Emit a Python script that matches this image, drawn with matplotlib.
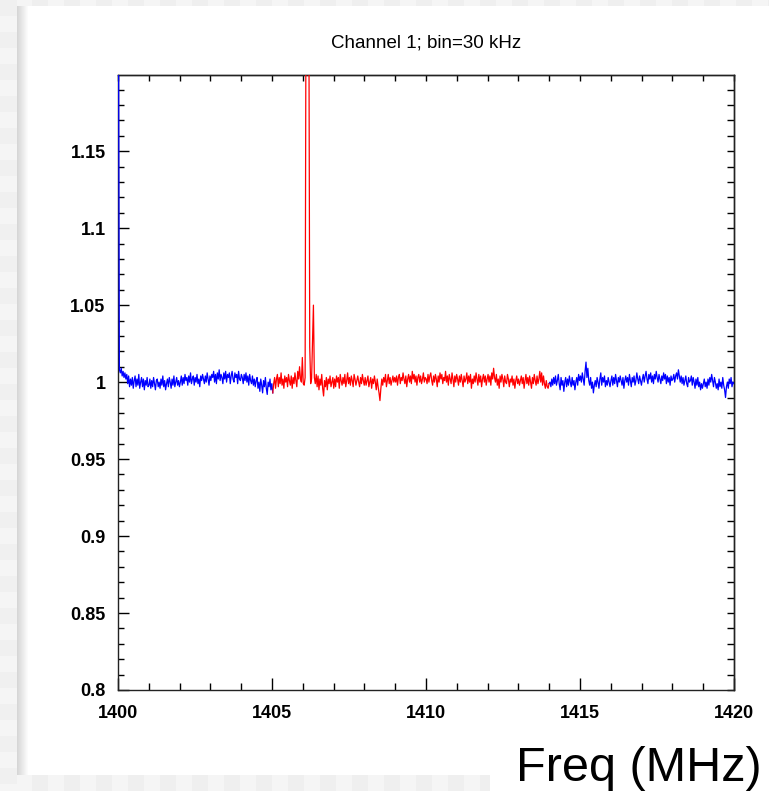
import numpy as np
import matplotlib
matplotlib.use("Agg")
import matplotlib.pyplot as plt
from matplotlib.patches import Rectangle
from matplotlib.ticker import MultipleLocator, FuncFormatter

# spectrum ratio, one value per 30 kHz bin starting at 1400 MHz
freq_start = 1400.0
bin_mhz = 0.03
ratio = [
    # 1400 - 1401
    1.25, 1.008, 1.006, 1.009, 1.004, 1.007, 1.003, 1.006, 1.002, 1.005,
    0.999, 1.004, 0.997, 1.002, 0.998, 1.003, 0.996, 1.001, 1.004, 0.997,
    1.002, 0.998, 1.005, 0.996, 1.000, 1.003, 0.997, 1.002, 0.995, 1.001,
    0.998, 1.003, 0.997,
    # 1401 - 1402
    0.998, 1.002, 0.996, 1.001, 0.997, 1.003, 0.999, 0.995, 1.001, 1.002,
    0.997, 1.000, 0.996, 1.002, 0.998, 1.004, 0.997, 1.001, 0.995, 0.999,
    1.002, 0.997, 1.003, 1.000, 0.996, 1.002, 0.998, 1.004, 0.997, 1.000,
    1.003, 0.998, 1.001, 0.997,
    # 1402 - 1403
    1.000, 1.004, 0.998, 1.003, 0.999, 1.005, 1.001, 1.003, 0.998, 1.004,
    1.000, 1.006, 0.999, 1.002, 1.004, 0.998, 1.003, 1.000, 1.005, 0.999,
    1.002, 0.997, 1.004, 1.001, 1.005, 1.002, 0.999, 1.004, 1.000, 1.006,
    1.002, 0.998, 1.004,
    # 1403 - 1404
    1.001, 1.005, 1.003, 1.007, 1.000, 1.005, 0.999, 1.006, 1.002, 1.008,
    1.001, 1.005, 1.003, 0.999, 1.006, 1.002, 1.007, 1.000, 1.005, 1.003,
    1.006, 0.999, 1.004, 1.007, 1.002, 1.000, 1.006, 1.003, 1.005, 0.999,
    1.007, 1.002, 1.001, 1.005,
    # 1404 - 1405
    1.003, 0.999, 1.005, 1.001, 1.006, 1.000, 1.004, 0.998, 1.005, 1.001,
    0.999, 1.004, 0.998, 1.002, 0.997, 1.001, 1.003, 0.996, 1.000, 0.994,
    1.002, 0.998, 0.993, 1.001, 0.997, 1.003, 0.996, 0.992, 1.000, 0.997,
    1.002, 0.995, 0.999,
    # 1405 - 1406.5 (line region)
    0.993, 0.999, 1.003, 0.996, 1.002, 1.005, 0.997, 1.003, 0.999, 1.006,
    0.998, 1.002, 0.996, 1.004, 1.000, 1.003, 0.997, 1.005, 1.001, 0.998,
    1.004, 0.996, 1.003, 0.999, 1.006, 1.001, 0.997, 1.007, 1.002, 1.010,
    1.002, 1.000, 1.016, 0.999, 0.998, 1.003, 1.26, 1.30, 1.30, 1.26,
    1.023, 0.999, 1.002, 1.027, 1.050, 1.003, 0.999, 1.005,
    # 1406.5 - 1407
    0.997, 1.004, 0.995, 1.002, 0.998, 1.005, 0.996, 0.991, 1.001, 0.997,
    1.003, 0.995, 1.002, 0.999, 1.004, 0.997, 1.000, 1.003, 0.996,
    # 1407 - 1408
    1.002, 0.997, 1.004, 1.000, 1.003, 0.996, 1.005, 1.001, 0.998, 1.003,
    0.999, 1.005, 0.997, 1.001, 1.006, 0.999, 1.003, 0.998, 1.004, 1.001,
    0.997, 1.005, 1.002, 0.998, 1.001, 1.004, 1.000, 0.997, 1.003, 0.999,
    1.005, 1.001, 0.998,
    # 1408 - 1409
    1.003, 0.998, 1.001, 1.004, 0.997, 1.000, 1.003, 0.996, 1.002, 0.999,
    1.004, 1.000, 0.995, 1.002, 0.997, 0.993, 0.988, 0.996, 1.002, 0.998,
    1.003, 1.000, 1.005, 0.997, 1.001, 1.005, 0.999, 1.003, 0.998, 1.001,
    1.004, 1.000, 1.003,
    # 1409 - 1410
    1.000, 1.004, 0.998, 1.003, 1.005, 0.999, 1.003, 1.001, 1.006, 1.002,
    0.999, 1.004, 0.997, 1.002, 1.005, 1.000, 1.004, 0.999, 1.007, 1.002,
    1.005, 1.000, 1.004, 0.998, 1.003, 1.005, 1.000, 1.004, 0.999, 1.002,
    1.006, 1.000, 1.003,
    # 1410 - 1411
    1.002, 0.999, 1.005, 1.000, 1.004, 1.006, 1.001, 0.998, 1.004, 1.000,
    1.005, 1.002, 0.997, 1.004, 1.000, 1.006, 1.002, 1.005, 0.999, 1.003,
    1.001, 1.007, 1.000, 1.004, 0.998, 1.005, 1.002, 0.999, 1.006, 1.002,
    0.997, 1.004, 1.000, 1.005,
    # 1411 - 1412
    1.002, 0.998, 1.004, 1.000, 1.005, 1.001, 0.997, 1.004, 1.000, 1.002,
    1.006, 0.999, 1.004, 1.000, 1.005, 0.996, 1.002, 0.999, 1.004, 1.000,
    1.006, 1.002, 0.998, 1.005, 1.000, 1.004, 0.997, 1.002, 1.005, 1.000,
    1.004, 0.998, 1.002,
    # 1412 - 1413
    1.005, 1.000, 1.004, 0.998, 1.006, 1.002, 1.009, 1.003, 1.000, 1.005,
    0.998, 1.002, 0.996, 1.004, 1.000, 1.005, 1.002, 0.997, 1.004, 1.000,
    0.999, 1.005, 1.002, 0.997, 1.002, 1.000, 1.004, 0.998, 1.002, 0.996,
    1.001, 1.004, 0.999,
    # 1413 - 1414
    1.002, 0.998, 1.001, 1.004, 0.999, 1.003, 0.996, 1.001, 1.005, 0.999,
    1.003, 0.998, 1.004, 1.000, 0.996, 1.003, 0.999, 1.005, 1.001, 0.998,
    1.004, 0.999, 1.002, 1.007, 1.000, 1.006, 0.998, 1.004, 0.999, 0.996,
    1.001, 0.997, 0.996, 0.999,
    # 1414 - 1415
    1.000, 0.997, 1.002, 0.998, 1.003, 0.999, 1.004, 0.998, 1.001, 1.005,
    0.999, 0.995, 1.003, 0.998, 1.001, 0.994, 1.000, 1.003, 0.997, 1.002,
    0.998, 1.004, 1.000, 0.997, 1.003, 0.998, 1.001, 0.995, 1.000, 1.003,
    0.998, 1.005, 1.001,
    # 1415 - 1416
    1.004, 1.000, 1.006, 1.002, 0.998, 1.007, 1.013, 1.003, 1.009, 1.001,
    0.998, 1.003, 0.996, 1.000, 0.993, 0.998, 1.001, 0.997, 1.003, 1.000,
    0.996, 1.002, 1.006, 0.998, 1.003, 1.000, 1.004, 0.997, 1.001, 0.998,
    1.003, 1.000, 0.997,
    # 1416 - 1417
    1.001, 1.004, 0.998, 1.003, 0.999, 1.005, 1.001, 0.997, 1.003, 1.000,
    1.004, 1.001, 0.998, 1.003, 0.996, 1.001, 1.004, 1.000, 1.003, 0.998,
    1.005, 1.001, 0.997, 1.003, 1.000, 1.004, 0.998, 1.001, 1.006, 1.002,
    0.999, 1.004, 1.001, 0.998,
    # 1417 - 1418
    1.002, 1.005, 1.000, 1.004, 1.007, 1.002, 0.999, 1.005, 1.002, 1.006,
    1.000, 1.004, 0.999, 1.005, 1.002, 1.007, 1.003, 1.000, 1.005, 1.002,
    0.999, 1.004, 1.001, 1.006, 1.002, 1.005, 0.999, 1.004, 1.000, 1.003,
    0.998, 1.004, 1.001,
    # 1418 - 1419
    1.002, 1.005, 1.000, 1.004, 1.006, 1.002, 1.008, 1.004, 1.000, 1.004,
    0.999, 1.003, 0.998, 1.001, 1.004, 0.999, 0.997, 1.003, 1.000, 1.001,
    1.004, 0.998, 1.003, 1.000, 0.996, 1.002, 0.998, 1.003, 0.997, 1.000,
    0.995, 0.999, 0.996,
    # 1419 - 1420
    0.999, 1.002, 0.997, 1.000, 0.996, 1.002, 0.998, 1.003, 1.000, 1.005,
    1.001, 0.997, 1.003, 1.000, 0.996, 0.999, 0.995, 1.002, 0.997, 1.000,
    0.996, 1.003, 0.998, 0.995, 0.990, 0.997, 1.000, 0.996, 1.002, 0.999,
    1.003, 0.997, 1.000, 0.999,
]
signal_lo, signal_hi = 1405.0, 1414.0
title = "Channel 1; bin=30 kHz"
xlabel = "Freq (MHz)"

W, H = 769, 791
fig = plt.figure(figsize=(W / 100, H / 100), dpi=100)
fig.patch.set_facecolor("#f2f2f2")


def px_rect(x0, y0, x1, y1, color, z=0):
    # rectangle given in image pixels (y down)
    r = Rectangle((x0 / W, 1 - y1 / H), (x1 - x0) / W, (y1 - y0) / H,
                  transform=fig.transFigure, facecolor=color, edgecolor="none", zorder=z)
    fig.add_artist(r)


# checkered grey border of the screenshot
for k, x in enumerate(range(0, W, 16)):
    px_rect(x, 0, x + 16, 6, "#f5f5f5" if k % 2 else "#efefef")
    px_rect(x, 775, x + 16, H, "#f5f5f5" if k % 2 else "#efefef")
for k, y in enumerate(range(0, H, 16)):
    px_rect(0, y, 17, y + 16, "#f5f5f5" if k % 2 else "#f0f0f0")
px_rect(17, 6, W, 775, "white")
px_rect(490, 775, W, H, "white")
# soft shadow on the left edge of the white panel
for i in range(12):
    g = 0.84 + 0.16 * i / 11
    px_rect(17 + i, 6, 18 + i, 775, (g, g, g))

ax = fig.add_axes([118 / W, 1 - 690 / H, 616 / W, 615 / H])
ax.set_facecolor("white")

freq = freq_start + bin_mhz * (np.arange(len(ratio)) + 0.5)
ratio = np.array(ratio)
sel = (freq >= signal_lo) & (freq <= signal_hi)
# blue outside the signal window, overlapping one bin at each end
inner = (freq > signal_lo + bin_mhz) & (freq < signal_hi - bin_mhz)
blue = np.where(inner, np.nan, ratio)

# lines sit above the frame, like the ROOT canvas
ax.plot(freq, blue, color="#0000ff", lw=0.9, zorder=3)
ax.plot(freq[sel], ratio[sel], color="#ff0000", lw=0.9, zorder=3)

ax.set_xlim(1400, 1420)
ax.set_ylim(0.8, 1.1995)

ax.xaxis.set_major_locator(MultipleLocator(5))
ax.xaxis.set_minor_locator(MultipleLocator(1))
ax.yaxis.set_major_locator(MultipleLocator(0.05))
ax.yaxis.set_minor_locator(MultipleLocator(0.01))
ax.yaxis.set_major_formatter(FuncFormatter(lambda v, p: f"{round(v, 3):g}"))

ax.tick_params(axis="x", which="major", direction="in", length=9, width=1, pad=11)
ax.tick_params(axis="x", which="minor", direction="in", length=5, width=1)
ax.tick_params(axis="y", which="major", direction="in", length=8, width=1, pad=9)
ax.tick_params(axis="y", which="minor", direction="in", length=4.5, width=1)
for lab in ax.get_xticklabels() + ax.get_yticklabels():
    lab.set_fontfamily("Liberation Sans")
    lab.set_fontweight("bold")
    lab.set_fontsize(13)

top = ax.secondary_xaxis("top")
top.xaxis.set_major_locator(MultipleLocator(1))
top.tick_params(direction="in", length=4.5, width=1, labeltop=False)
right = ax.secondary_yaxis("right")
right.yaxis.set_major_locator(MultipleLocator(0.01))
right.tick_params(direction="in", length=5, width=1, labelright=False)

for s in list(ax.spines.values()) + [top.spines["top"], right.spines["right"]]:
    s.set_linewidth(1)
    s.set_color("#222222")

fig.text(426 / W, 1 - 48 / H, title, ha="center", va="baseline",
         fontsize=13.5, family="Liberation Sans")
fig.text(762 / W, 1 - 781 / H, xlabel, ha="right", va="baseline",
         fontsize=35, family="Liberation Sans")

fig.savefig("out.png", dpi=100, facecolor=fig.get_facecolor())
